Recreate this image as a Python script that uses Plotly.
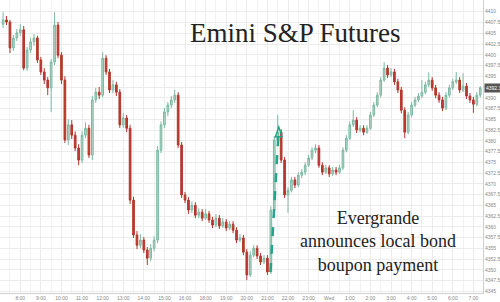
import pandas as pd
import plotly.graph_objects as go

# ---------------- data (10-minute candles, 21 Sep 07:10 -> 22 Sep 07:20, 17:00-18:00 closed) -------------
opens = [4407.1, 4408.1, 4407.6, 4401.6, 4403.9, 4405.1, 4405.8, 4396.9, 4401.1, 4403.0,
         4403.9, 4398.8, 4396.0, 4394.1, 4392.3, 4398.3, 4406.9, 4399.9, 4394.1, 4380.2,
         4383.7, 4381.3, 4378.3, 4375.5, 4381.3, 4382.9, 4376.7, 4389.5, 4391.3, 4390.6,
         4399.2, 4396.0, 4391.8, 4393.0, 4391.3, 4383.7, 4385.3, 4382.9, 4366.2, 4358.1,
         4355.7, 4356.9, 4354.6, 4352.7, 4355.0, 4356.9, 4377.8, 4383.7, 4386.7, 4388.3,
         4389.5, 4390.6, 4379.0, 4367.4, 4366.2, 4363.9, 4365.0, 4362.7, 4363.4, 4362.0,
         4363.0, 4361.6, 4360.4, 4362.0, 4360.2, 4361.1, 4359.7, 4360.6, 4359.2, 4356.9,
         4357.4, 4354.1, 4348.8, 4353.4, 4355.0, 4353.2, 4351.8, 4352.7, 4349.5, 4363.9,
         4380.2, 4382.0, 4375.5, 4367.4, 4368.5, 4370.9, 4369.7, 4372.0, 4372.7, 4374.3,
         4376.0, 4377.8, 4378.3, 4374.3, 4372.7, 4373.7, 4372.3, 4373.2, 4372.7, 4373.7,
         4377.8, 4380.6, 4383.7, 4384.8, 4382.5, 4382.9, 4382.0, 4382.9, 4386.0, 4388.3,
         4390.6, 4394.1, 4396.9, 4395.3, 4396.0, 4393.7, 4391.8, 4387.1, 4382.0, 4386.0,
         4388.3, 4389.5, 4390.4, 4391.3, 4393.0, 4394.1, 4392.3, 4390.6, 4389.5, 4387.6,
         4390.6, 4392.3, 4393.7, 4394.1, 4391.8, 4392.7, 4390.4, 4389.5, 4388.5, 4390.6]
highs = [4409.9, 4409.0, 4408.1, 4404.6, 4406.0, 4407.1, 4406.7, 4401.8, 4403.9, 4404.8,
         4404.4, 4399.5, 4396.9, 4394.8, 4399.0, 4409.9, 4407.6, 4400.6, 4395.0, 4385.0,
         4384.8, 4382.2, 4379.2, 4382.2, 4384.3, 4383.7, 4390.4, 4392.3, 4392.5, 4400.6,
         4399.9, 4396.7, 4394.1, 4393.7, 4392.0, 4386.4, 4386.0, 4383.7, 4367.0, 4359.0,
         4358.3, 4357.6, 4355.3, 4356.0, 4357.8, 4378.8, 4384.5, 4387.6, 4389.0, 4390.4,
         4391.8, 4391.3, 4379.7, 4368.1, 4366.9, 4365.9, 4365.7, 4364.3, 4364.1, 4364.1,
         4363.7, 4362.3, 4362.9, 4362.7, 4362.0, 4361.8, 4361.3, 4361.3, 4359.9, 4358.3,
         4358.1, 4354.8, 4354.3, 4355.7, 4355.7, 4353.9, 4353.4, 4353.4, 4364.8, 4381.1,
         4386.0, 4382.7, 4376.2, 4369.2, 4371.6, 4371.6, 4372.7, 4373.4, 4375.0, 4376.7,
         4378.5, 4379.2, 4379.0, 4375.0, 4374.4, 4374.3, 4373.9, 4373.9, 4374.4, 4378.5,
         4381.3, 4384.5, 4387.1, 4385.5, 4383.6, 4383.6, 4383.6, 4386.7, 4389.0, 4391.3,
         4394.8, 4398.3, 4397.6, 4396.9, 4396.7, 4394.4, 4392.5, 4387.8, 4386.7, 4389.0,
         4390.2, 4391.1, 4394.1, 4393.7, 4395.9, 4394.8, 4393.0, 4391.3, 4390.2, 4391.3,
         4393.0, 4394.4, 4396.0, 4394.8, 4395.7, 4393.4, 4391.1, 4390.2, 4391.3, 4392.7]
lows = [4406.2, 4406.9, 4400.4, 4400.9, 4403.2, 4404.4, 4396.4, 4396.2, 4400.4, 4402.1,
        4398.1, 4395.3, 4393.2, 4390.6, 4386.7, 4397.6, 4399.2, 4393.2, 4379.5, 4379.0,
        4380.4, 4377.6, 4374.3, 4374.8, 4380.6, 4376.0, 4375.5, 4388.8, 4389.7, 4390.1,
        4395.3, 4391.1, 4391.1, 4390.4, 4383.0, 4383.0, 4382.0, 4365.3, 4357.4, 4354.8,
        4355.0, 4353.9, 4351.1, 4352.0, 4354.3, 4356.2, 4377.1, 4383.0, 4385.7, 4387.6,
        4388.8, 4378.3, 4366.7, 4365.5, 4363.0, 4363.2, 4362.0, 4362.0, 4361.3, 4361.6,
        4360.9, 4359.7, 4359.9, 4359.5, 4359.7, 4359.0, 4359.2, 4358.5, 4356.2, 4356.4,
        4353.4, 4347.6, 4348.3, 4352.9, 4352.5, 4351.1, 4351.3, 4348.8, 4349.0, 4363.4,
        4379.5, 4374.8, 4366.7, 4363.2, 4368.0, 4369.0, 4369.2, 4371.3, 4372.0, 4373.9,
        4375.5, 4377.1, 4373.7, 4372.0, 4372.3, 4371.6, 4371.8, 4372.0, 4372.3, 4373.2,
        4377.3, 4380.2, 4383.2, 4381.8, 4382.0, 4381.3, 4381.6, 4382.5, 4385.5, 4387.8,
        4390.1, 4393.7, 4394.6, 4394.8, 4393.0, 4391.1, 4386.4, 4380.6, 4381.5, 4385.5,
        4387.8, 4389.0, 4389.9, 4390.8, 4392.5, 4391.6, 4389.9, 4388.8, 4386.9, 4387.1,
        4390.1, 4391.8, 4393.2, 4391.1, 4391.3, 4389.7, 4388.8, 4386.5, 4388.0, 4390.1]
closes = [4408.1, 4407.6, 4401.6, 4403.9, 4405.1, 4405.8, 4396.9, 4401.1, 4403.0, 4403.9,
          4398.8, 4396.0, 4394.1, 4392.3, 4398.3, 4406.9, 4399.9, 4394.1, 4380.2, 4383.7,
          4381.3, 4378.3, 4375.5, 4381.3, 4382.9, 4376.7, 4389.5, 4391.3, 4390.6, 4399.2,
          4396.0, 4391.8, 4393.0, 4391.3, 4383.7, 4385.3, 4382.9, 4366.2, 4358.1, 4355.7,
          4356.9, 4354.6, 4352.7, 4355.0, 4356.9, 4377.8, 4383.7, 4386.7, 4388.3, 4389.5,
          4390.6, 4379.0, 4367.4, 4366.2, 4363.9, 4365.0, 4362.7, 4363.4, 4362.0, 4363.0,
          4361.6, 4360.4, 4362.0, 4360.2, 4361.1, 4359.7, 4360.6, 4359.2, 4356.9, 4357.4,
          4354.1, 4348.8, 4353.4, 4355.0, 4353.2, 4351.8, 4352.7, 4349.5, 4363.9, 4380.2,
          4382.0, 4375.5, 4367.4, 4368.5, 4370.9, 4369.7, 4372.0, 4372.7, 4374.3, 4376.0,
          4377.8, 4378.3, 4374.3, 4372.7, 4373.7, 4372.3, 4373.2, 4372.7, 4373.7, 4377.8,
          4380.6, 4383.7, 4384.8, 4382.5, 4382.9, 4382.0, 4382.9, 4386.0, 4388.3, 4390.6,
          4394.1, 4396.9, 4395.3, 4396.0, 4393.7, 4391.8, 4387.1, 4382.0, 4386.0, 4388.3,
          4389.5, 4390.4, 4391.3, 4393.0, 4394.1, 4392.3, 4390.6, 4389.5, 4387.6, 4390.6,
          4392.3, 4393.7, 4394.1, 4391.8, 4392.7, 4390.4, 4389.5, 4388.5, 4390.6, 4392.3]

all_times = pd.date_range("2021-09-21 07:10", "2021-09-22 07:20", freq="10min")
times = [t for t in all_times if t.hour != 17]

tick_times = ["2021-09-21 08:00", "2021-09-21 09:00", "2021-09-21 10:00", "2021-09-21 11:00",
              "2021-09-21 12:00", "2021-09-21 13:00", "2021-09-21 14:00", "2021-09-21 15:00",
              "2021-09-21 16:00", "2021-09-21 18:00", "2021-09-21 19:00", "2021-09-21 20:00",
              "2021-09-21 21:00", "2021-09-21 22:00", "2021-09-21 23:00", "2021-09-22 00:00",
              "2021-09-22 01:00", "2021-09-22 02:00", "2021-09-22 03:00", "2021-09-22 04:00",
              "2021-09-22 05:00", "2021-09-22 06:00", "2021-09-22 07:00"]
tick_labels = ["8:00", "9:00", "10:00", "11:00", "12:00", "13:00", "14:00", "15:00", "16:00",
               "18:00", "19:00", "20:00", "21:00", "22:00", "23:00", "Wed", "1:00", "2:00",
               "3:00", "4:00", "5:00", "6:00", "7:00"]
half_hours = [str(t) for t in pd.date_range("2021-09-21 07:30", "2021-09-22 07:30", freq="60min")
              if t.hour != 17]
price_ticks = [4345 + 2.5 * k for k in range(28)]
last_price = closes[-1]

title_text = "Emini S&P Futures"
note_text = "Evergrande<br>announces local bond<br>boupon payment"

# ---------------- figure ----------------
W, H = 500, 302
ML, MR, MT, MB = 0, 17, 0, 9
PW, PH = W - ML - MR, H - MT - MB


def px(x):
    return (x - ML) / PW


def py(y):
    return 1 - (y - MT) / PH


fig = go.Figure(go.Candlestick(
    x=times, open=opens, high=highs, low=lows, close=closes,
    increasing=dict(line=dict(color="#7cb8a2", width=1), fillcolor="#b3d8c9"),
    decreasing=dict(line=dict(color="#b3362c", width=1), fillcolor="#bf3a2f"),
    whiskerwidth=0, showlegend=False, hoverinfo="skip",
))

teal = "#22a58b"
fig.add_shape(type="line", xref="paper", yref="paper",
              x0=px(270.5), y0=py(272), x1=px(278.3), y1=py(136),
              line=dict(color=teal, width=2.5, dash="dash"))
fig.add_shape(type="path", xref="paper", yref="paper",
              path=f"M {px(275.3)} {py(137)} L {px(278.8)} {py(127)} L {px(282)} {py(136.5)} Z",
              line=dict(color=teal, width=1.5), fillcolor="rgba(0,0,0,0)")

fig.add_annotation(xref="paper", yref="paper", x=px(295), y=py(33), text=title_text,
                   xanchor="center", yanchor="middle",
                   showarrow=False, font=dict(family="Liberation Serif", size=27, color="#222222"))
fig.add_annotation(xref="paper", yref="paper", x=px(378), y=py(241), text=note_text,
                   xanchor="center", yanchor="middle",
                   showarrow=False, align="center",
                   font=dict(family="Liberation Serif", size=18, color="#222222"))

# y tick labels drawn as text so the last-price tag can replace the one it would cover
tick_text = [("" if abs(v - last_price) < 1.3 else f"{v:g}") for v in price_ticks]
fig.add_annotation(xref="paper", yref="y", x=1.0, y=last_price, xanchor="left",
                   yanchor="middle", text=f"{last_price:.1f}", showarrow=False,
                   bgcolor="#555555", xshift=1,
                   font=dict(family="Liberation Sans", size=5, color="white"),
                   borderpad=1)

fig.update_layout(
    width=W, height=H, margin=dict(l=ML, r=MR, t=MT, b=MB),
    paper_bgcolor="white", plot_bgcolor="white",
    xaxis=dict(
        type="date", range=["2021-09-21 07:01", "2021-09-22 07:28"],
        rangebreaks=[dict(bounds=[17, 18], pattern="hour")],
        rangeslider=dict(visible=False),
        tickvals=tick_times, ticktext=tick_labels, ticks="",
        tickfont=dict(family="Liberation Sans", size=5, color="#888888"),
        showgrid=True, gridcolor="#ececec", gridwidth=1,
        minor=dict(tickvals=half_hours, showgrid=True, gridcolor="#f2f2f2", gridwidth=1),
        showline=True, linecolor="#d0d0d0", linewidth=1, zeroline=False,
    ),
    yaxis=dict(
        side="right", range=[4344.6, 4412.73],
        tickvals=price_ticks, ticktext=tick_text,
        tickfont=dict(family="Liberation Sans", size=5, color="#888888"),
        showgrid=True, gridcolor="#ececec", gridwidth=1,
        showline=True, linecolor="#d0d0d0", linewidth=1, zeroline=False, ticks="",
    ),
)

fig.write_html("out.html")
